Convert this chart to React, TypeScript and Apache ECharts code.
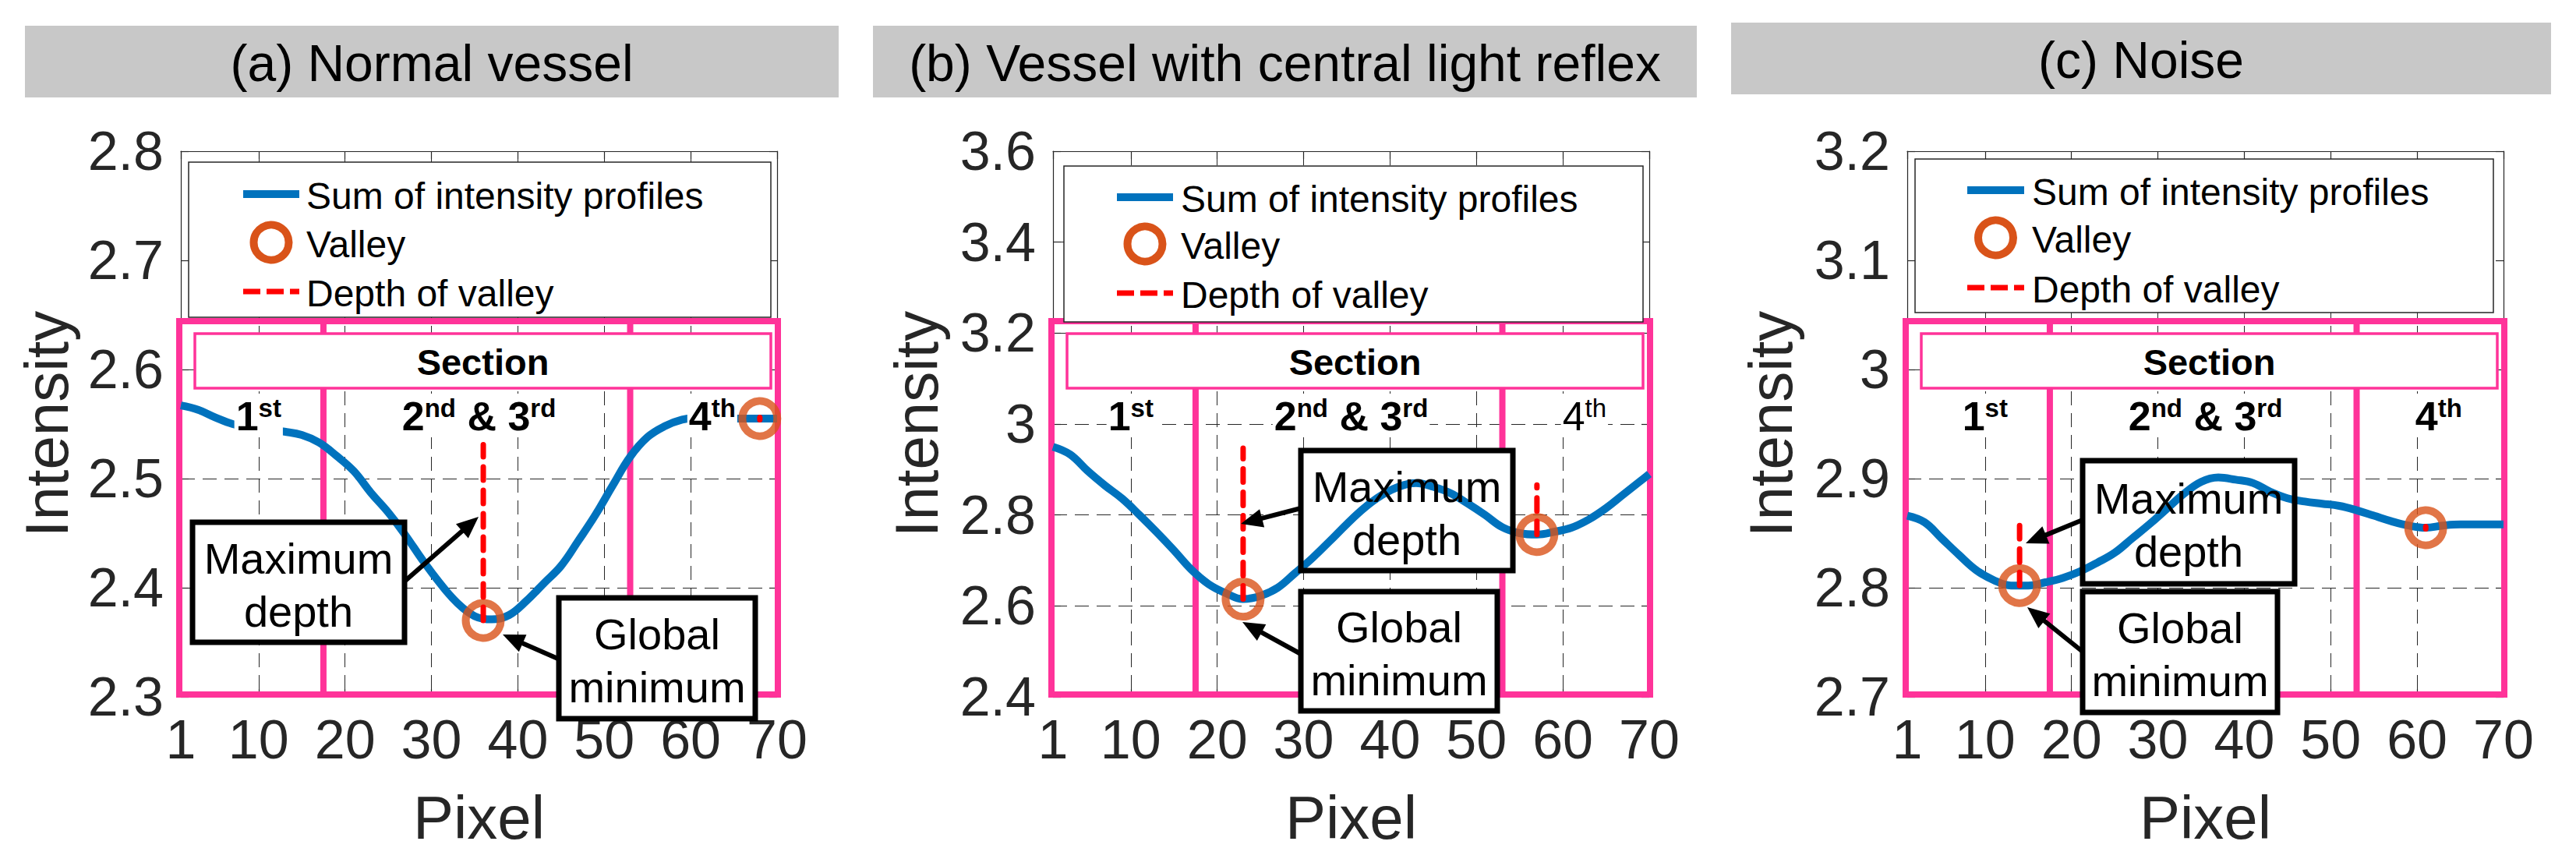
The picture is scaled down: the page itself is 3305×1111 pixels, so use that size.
import React, { useEffect, useRef } from 'react';
import * as echarts from 'echarts';

// ---------------- data ----------------
const xTicks = [1, 10, 20, 30, 40, 50, 60, 70];
const sectionEdges = [17.5, 53];
const sectionLabelX = [10, 35.5, 62.5];
const titles = ['(a) Normal vessel', '(b) Vessel with central light reflex', '(c) Noise'];
const yMins = [2.3, 2.4, 2.7];
const yMaxs = [2.8, 3.6, 3.2];
const yIntervals = [0.1, 0.2, 0.1];
const legendLabels = ['Sum of intensity profiles', 'Valley', 'Depth of valley'];

const pixelSamples = [1, 3, 5, 7, 9, 11, 13, 15, 17, 19, 21, 23, 25, 27, 29, 31, 33, 35, 37, 39, 41, 43, 45, 47, 49, 51, 53, 55, 57, 59, 61, 63, 65, 67, 69, 70];
const intensityA = [2.567, 2.563, 2.556, 2.550, 2.547, 2.545, 2.543, 2.540, 2.533, 2.521, 2.507, 2.487, 2.469, 2.448, 2.425, 2.404, 2.386, 2.374, 2.371, 2.375, 2.388, 2.404, 2.420, 2.443, 2.467, 2.494, 2.520, 2.538, 2.548, 2.554, 2.556, 2.556, 2.555, 2.555, 2.555, 2.555];
const intensityB = [2.950, 2.933, 2.897, 2.865, 2.836, 2.800, 2.762, 2.722, 2.680, 2.648, 2.628, 2.615, 2.622, 2.640, 2.672, 2.705, 2.742, 2.780, 2.815, 2.843, 2.862, 2.870, 2.862, 2.848, 2.825, 2.800, 2.773, 2.760, 2.757, 2.763, 2.772, 2.790, 2.815, 2.845, 2.875, 2.890];
const intensityC = [2.866, 2.860, 2.845, 2.830, 2.816, 2.807, 2.802, 2.802, 2.805, 2.809, 2.815, 2.823, 2.832, 2.845, 2.858, 2.872, 2.886, 2.897, 2.901, 2.899, 2.896, 2.888, 2.882, 2.879, 2.877, 2.875, 2.871, 2.866, 2.861, 2.857, 2.855, 2.857, 2.858, 2.858, 2.858, 2.858];

const valleysA = [[36, 2.370], [68, 2.555]];
const valleysB = [[23, 2.615], [57, 2.757]];
const valleysC = [[14, 2.802], [61, 2.855]];

// [pixel, valley value, top of depth line]
const depthA = [[36, 2.370, 2.531], [68, 2.554, 2.556]];
const depthB = [[23, 2.615, 2.947], [57, 2.757, 2.866]];
const depthC = [[14, 2.802, 2.864], [61, 2.854, 2.856]];

const intensities = [intensityA, intensityB, intensityC];
const valleys = [valleysA, valleysB, valleysC];
const depths = [depthA, depthB, depthC];

// ---------------- styles / layout ----------------
const FONT = '"Liberation Sans", Arial, Helvetica, sans-serif';
const DARK = '#262626';
const PINK = '#ff3399';
const BLUE = '#0072bd';
const ORANGE = '#d95319';
const RED = '#ff0000';
const GRID_TOP = 194;
const GRID_H = 700;

const LAYOUT = [
  {
    L: 232, W: 765, bar: [32, 33, 1044, 92], yName: 60,
    legend: [10, 14, 747, 199], legRows: [55, 117, 180], legLine: [80, 152], legText: 161,
    maxBox: [15, 476, 272, 154], maxArrow: [288, 551, 382, 469],
    minBox: [485, 573, 252, 155], minArrow: [486, 652, 413, 620],
    boldFourth: true,
  },
  {
    L: 1351, W: 765, bar: [1120, 33, 1057, 92], yName: 1176,
    legend: [14, 19, 743, 200], legRows: [59, 119, 182], legLine: [82, 154], legText: 164,
    maxBox: [318, 384, 272, 154], maxArrow: [318, 458, 241, 478],
    minBox: [318, 565, 252, 153], minArrow: [318, 645, 243, 604],
    boldFourth: false,
  },
  {
    L: 2447, W: 765, bar: [2221, 29, 1052, 92], yName: 2272,
    legend: [10, 10, 742, 197], legRows: [50, 111, 175], legLine: [77, 150], legText: 160,
    maxBox: [225, 397, 272, 158], maxArrow: [225, 473, 152, 503],
    minBox: [225, 565, 250, 155], minArrow: [225, 642, 154, 585],
    boldFourth: true,
  },
];

function arrow(x1: number, y1: number, x2: number, y2: number, z: number): any[] {
  const dx = x2 - x1, dy = y2 - y1;
  const len = Math.hypot(dx, dy);
  const ux = dx / len, uy = dy / len;
  const hl = 28, hw = 12;
  const bx = x2 - ux * hl, by = y2 - uy * hl;
  return [
    { type: 'line', shape: { x1, y1, x2: bx + ux * 2, y2: by + uy * 2 }, style: { stroke: '#000', lineWidth: 6 }, z, silent: true },
    { type: 'polygon', shape: { points: [[x2, y2], [bx - uy * hw, by + ux * hw], [bx + uy * hw, by - ux * hw]] }, style: { fill: '#000' }, z, silent: true },
  ];
}

function buildOption() {
  const grid: any[] = [];
  const xAxis: any[] = [];
  const yAxis: any[] = [];
  const series: any[] = [];
  const axisLineStyle = { color: DARK, width: 1.2 };
  LAYOUT.forEach((p, i) => {
    grid.push({ left: p.L, top: GRID_TOP, width: p.W, height: GRID_H, containLabel: false, outerBoundsMode: 'none' });
    xAxis.push({
      gridIndex: i, type: 'value', min: 1, max: 70, position: 'bottom',
      axisLine: { show: true, onZero: false, lineStyle: axisLineStyle },
      axisTick: { show: true, inside: true, length: 10, customValues: xTicks, lineStyle: axisLineStyle },
      axisLabel: { show: true, customValues: xTicks, margin: 20, fontSize: 70, color: DARK, fontFamily: FONT },
      splitLine: { show: true, lineStyle: { color: DARK, width: 1, type: [18, 10] } },
    });
    xAxis.push({
      gridIndex: i, type: 'value', min: 1, max: 70, position: 'top',
      axisLine: { show: true, onZero: false, lineStyle: axisLineStyle },
      axisTick: { show: true, inside: true, length: 10, customValues: xTicks, lineStyle: axisLineStyle },
      axisLabel: { show: false },
      splitLine: { show: false },
    });
    yAxis.push({
      gridIndex: i, type: 'value', min: yMins[i], max: yMaxs[i], interval: yIntervals[i], position: 'left',
      axisLine: { show: true, onZero: false, lineStyle: axisLineStyle },
      axisTick: { show: true, inside: true, length: 10, lineStyle: axisLineStyle },
      axisLabel: { show: true, margin: 22, fontSize: 70, color: DARK, fontFamily: FONT },
      splitLine: { show: true, lineStyle: { color: DARK, width: 1, type: [18, 10] } },
    });
    yAxis.push({
      gridIndex: i, type: 'value', min: yMins[i], max: yMaxs[i], interval: yIntervals[i], position: 'right',
      axisLine: { show: true, onZero: false, lineStyle: axisLineStyle },
      axisTick: { show: true, inside: true, length: 10, lineStyle: axisLineStyle },
      axisLabel: { show: false },
      splitLine: { show: false },
    });
    series.push({
      type: 'line', name: legendLabels[0], xAxisIndex: 2 * i, yAxisIndex: 2 * i,
      data: pixelSamples.map((x, j) => [x, intensities[i][j]]),
      smooth: 0.4, symbol: 'none', clip: false, silent: true,
      lineStyle: { color: BLUE, width: 10 }, z: 5,
    });
    series.push({
      type: 'scatter', name: legendLabels[1], xAxisIndex: 2 * i, yAxisIndex: 2 * i,
      data: valleys[i], symbol: 'circle', symbolSize: 45, clip: false, silent: true,
      itemStyle: { color: 'rgba(0,0,0,0)', borderColor: ORANGE, borderWidth: 10 }, z: 6,
    });
    depths[i].forEach((d) => {
      series.push({
        type: 'line', name: legendLabels[2], xAxisIndex: 2 * i, yAxisIndex: 2 * i,
        data: [[d[0], d[1]], [d[0], d[2]]], symbol: 'none', clip: false, silent: true,
        lineStyle: { color: RED, width: 7, type: [17, 13], cap: 'round' }, z: 7,
      });
    });
  });
  return { animation: false, backgroundColor: '#ffffff', grid, xAxis, yAxis, series };
}

function buildGraphic(chart: any) {
  const els: any[] = [];
  const toPx = (i: number, x: number, y: number) =>
    chart.convertToPixel({ xAxisIndex: 2 * i, yAxisIndex: 2 * i }, [x, y]) as number[];
  LAYOUT.forEach((p, i) => {
    const T = GRID_TOP;
    // title bar
    els.push({ type: 'rect', shape: { x: p.bar[0], y: p.bar[1], width: p.bar[2], height: p.bar[3] }, style: { fill: '#c8c8c8' }, z: 0, silent: true });
    els.push({
      type: 'text', x: p.bar[0] + p.bar[2] / 2, y: p.bar[1] + p.bar[3] / 2 + 2, z: 1, silent: true,
      style: { text: titles[i], fontSize: 66, fontFamily: FONT, fill: '#000', align: 'center', verticalAlign: 'middle' },
    });
    // axis titles
    els.push({
      type: 'text', x: p.yName, y: T + GRID_H / 2, rotation: Math.PI / 2, z: 1, silent: true,
      style: { text: 'Intensity', fontSize: 78, fontFamily: FONT, fill: DARK, align: 'center', verticalAlign: 'middle' },
    });
    els.push({
      type: 'text', x: p.L + p.W / 2, y: 1049, z: 1, silent: true,
      style: { text: 'Pixel', fontSize: 78, fontFamily: FONT, fill: DARK, align: 'center', verticalAlign: 'middle' },
    });
    // legend
    const lg = p.legend;
    els.push({ type: 'rect', shape: { x: p.L + lg[0], y: T + lg[1], width: lg[2], height: lg[3] }, style: { fill: '#fff', stroke: DARK, lineWidth: 1.5 }, z: 2, silent: true });
    const lx1 = p.L + p.legLine[0], lx2 = p.L + p.legLine[1];
    els.push({ type: 'line', shape: { x1: lx1, y1: T + p.legRows[0], x2: lx2, y2: T + p.legRows[0] }, style: { stroke: BLUE, lineWidth: 10 }, z: 3, silent: true });
    els.push({ type: 'circle', shape: { cx: (lx1 + lx2) / 2, cy: T + p.legRows[1], r: 22.5 }, style: { fill: 'none', stroke: ORANGE, lineWidth: 10 }, z: 3, silent: true });
    els.push({ type: 'line', shape: { x1: lx1, y1: T + p.legRows[2], x2: lx2, y2: T + p.legRows[2] }, style: { stroke: RED, lineWidth: 7, lineDash: [22, 8] }, z: 3, silent: true });
    legendLabels.forEach((lab, k) => {
      els.push({
        type: 'text', x: p.L + p.legText, y: T + p.legRows[k] + 2, z: 3, silent: true,
        style: { text: lab, fontSize: 48, fontFamily: FONT, fill: '#000', align: 'left', verticalAlign: 'middle' },
      });
    });
    // pink section frames
    const left = toPx(i, 1, yMins[i])[0];
    const right = toPx(i, 70, yMins[i])[0];
    const pTop = 412, pBot = T + GRID_H - 3;
    els.push({ type: 'rect', shape: { x: left - 2, y: pTop, width: right - left + 3, height: pBot - pTop }, style: { fill: 'none', stroke: PINK, lineWidth: 8 }, z: 1, silent: true });
    sectionEdges.forEach((sx) => {
      const xx = toPx(i, sx, yMins[i])[0];
      els.push({ type: 'line', shape: { x1: xx, y1: pTop, x2: xx, y2: pBot }, style: { stroke: PINK, lineWidth: 8 }, z: 1, silent: true });
    });
    els.push({ type: 'rect', shape: { x: p.L + 18, y: 428, width: p.W - 8 - 18, height: 70 }, style: { fill: '#fff', stroke: PINK, lineWidth: 3.5 }, z: 8, silent: true });
    els.push({
      type: 'text', x: p.L + 18 + (p.W - 26) / 2, y: 464, z: 9, silent: true,
      style: { text: 'Section', fontSize: 47, fontWeight: 'bold', fontFamily: FONT, fill: '#000', align: 'center', verticalAlign: 'middle' },
    });
    const labTexts = ['{m|1}{s|st}', '{m|2}{s|nd}{m| & 3}{s|rd}', p.boldFourth ? '{m|4}{s|th}' : '{n|4}{t|th}'];
    labTexts.forEach((t, k) => {
      const xx = toPx(i, sectionLabelX[k], yMins[i])[0];
      els.push({
        type: 'text', x: xx, y: 533, z: 9, silent: true,
        style: {
          text: t, align: 'center', verticalAlign: 'middle', backgroundColor: '#fff', padding: [2, 2, 0, 2],
          rich: {
            m: { fontSize: 52, fontWeight: 'bold', fontFamily: FONT, fill: '#000', lineHeight: 54 },
            s: { fontSize: 33, fontWeight: 'bold', fontFamily: FONT, fill: '#000', lineHeight: 34, verticalAlign: 'top' },
            n: { fontSize: 52, fontFamily: FONT, fill: '#000', lineHeight: 54 },
            t: { fontSize: 33, fontFamily: FONT, fill: '#000', lineHeight: 34, verticalAlign: 'top' },
          },
        },
      });
    });
    // annotation boxes
    const boxes: [number[], number[], string][] = [
      [p.maxBox, p.maxArrow, 'Maximum\ndepth'],
      [p.minBox, p.minArrow, 'Global\nminimum'],
    ];
    boxes.forEach(([b, a, txt]) => {
      const bx = p.L + b[0], by = T + b[1];
      els.push({ type: 'rect', shape: { x: bx, y: by, width: b[2], height: b[3] }, style: { fill: '#fff' }, z: 3, silent: true });
      els.push({ type: 'rect', shape: { x: bx, y: by, width: b[2], height: b[3] }, style: { fill: 'none', stroke: '#000', lineWidth: 7 }, z: 10, silent: true });
      els.push({
        type: 'text', x: bx + b[2] / 2, y: by + b[3] / 2 + 3, z: 10, silent: true,
        style: { text: txt, fontSize: 56, fontFamily: FONT, fill: '#000', align: 'center', verticalAlign: 'middle', lineHeight: 68 },
      });
      arrow(p.L + a[0], T + a[1], p.L + a[2], T + a[3], 10).forEach((e) => els.push(e));
    });
  });
  return els;
}

export default function App() {
  const ref = useRef<HTMLDivElement>(null);
  useEffect(() => {
    document.body.style.margin = '0';
    const chart = echarts.init(ref.current as HTMLDivElement, undefined, { renderer: 'svg', width: 3305, height: 1111 });
    chart.setOption(buildOption() as any);
    chart.setOption({ graphic: { elements: buildGraphic(chart) } } as any);
    return () => chart.dispose();
  }, []);
  return (
    <div
      ref={ref}
      style={{ position: 'absolute', left: 0, top: 0, width: 3305, height: 1111, background: '#ffffff' }}
    />
  );
}
